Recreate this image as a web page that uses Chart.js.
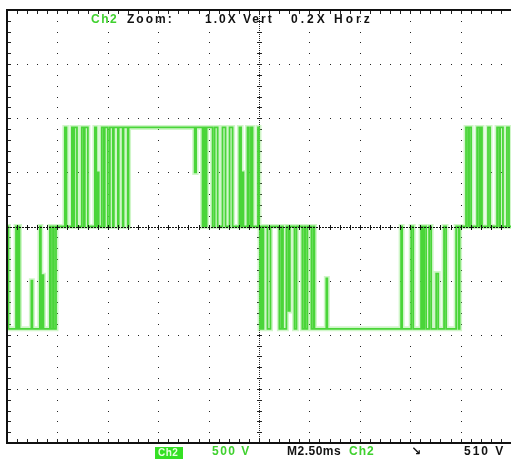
<!DOCTYPE html>
<html>
<head>
<meta charset="utf-8">
<script src="https://cdn.jsdelivr.net/npm/chart.js@4.4.1/dist/chart.umd.min.js"></script>
<style>
  html, body { margin: 0; padding: 0; background: #fff; }
  #wrap { width: 511px; height: 459px; }
</style>
</head>
<body>
<div id="wrap"><canvas id="scope" width="511" height="459"></canvas></div>
<script>
// Ch2 trace: time of each edge (ms) and the level after that edge (V)
const edgeTimes = [
  0, 0.07, 0.45, 0.50, 0.57, 0.62, 1.21, 1.26, 1.63, 1.68, 1.76, 1.81, 2.13, 2.18, 2.28, 2.33, 2.43,
  2.87, 2.95, 3.22, 3.29, 3.34, 3.47, 3.71, 3.81, 3.86, 4.01, 4.36, 4.43, 4.50, 4.55, 4.70, 4.80, 4.85, 5.00,
  5.10, 5.25, 5.30, 5.50, 5.54, 5.74, 5.78, 5.99, 6.03,
  9.31, 9.38, 9.70, 9.78, 9.85, 9.90, 10.20, 10.30, 10.45, 10.69, 10.84, 11.04, 11.19,
  11.53, 11.61, 11.68, 11.73, 11.93, 12.00, 12.10, 12.18,
  12.45, 12.50, 12.55, 12.62, 12.67, 12.72, 12.92, 13.07, 13.51, 13.61, 13.69, 13.86, 13.96, 14.03,
  14.26, 14.36, 14.65, 14.75, 14.80, 14.90, 15.10, 15.20, 15.25, 15.84, 15.89,
  19.55, 19.60, 20.05, 20.15, 20.54, 20.62, 20.69, 20.79, 20.94, 21.04, 21.29, 21.39, 21.68, 21.78,
  22.28, 22.40, 22.45,
  22.77, 22.87, 22.92, 23.02, 23.32, 23.42, 23.47, 23.56, 23.86, 23.96, 24.31, 24.41, 24.46, 24.60,
  24.80, 24.90, 25
];
const edgeLevels = [
  0, -945, 0, -945, 0, -945, -500, -945, 0, -945, -450, -945, 0, -945, 0, -945, 0,
  915, 0, 915, 0, 915, 0, 915, 0, 915, 0, 915, 0, 500, 0, 915, 0, 915, 0,
  915, 0, 915, 0, 915, 0, 915, 0, 915,
  500, 915, 0, 915, 0, 915, 0, 915, 0, 915, 0, 915, 0,
  915, 0, 500, 0, 915, 0, 915, 0,
  915, 0, -945, 0, -945, 0, -945, 0, -945, 0, -945, 0, -780, 0,
  -945, 0, -945, 0, -945, 0, -945, 0, -945, -480, -945,
  0, -945, 0, -945, 0, -945, 0, -945, 0, -945, -435, -945, 0, -945,
  0, -945, 0,
  915, 0, 915, 0, 915, 0, 915, 0, 915, 0, 915, 0, 915, 0,
  915, 0, 0
];

// screen: 10 horizontal divisions of 2.5 ms, 8 vertical divisions of 500 V
const timeDivs = [0, 2.5, 5, 7.5, 10, 12.5, 15, 17.5, 20, 22.5, 25];
const voltDivs = [-2000, -1500, -1000, -500, 0, 500, 1000, 1500, 2000];

const trace = edgeTimes.map((t, i) => ({ x: t, y: edgeLevels[i] }));

const graticule = {
  id: 'graticule',
  beforeDatasetsDraw(chart) {
    const { ctx, chartArea: a, scales: { x, y } } = chart;
    ctx.save();
    ctx.fillStyle = '#222';
    // dotted grid lines, a dot every minor division
    timeDivs.forEach(t => {
      if (t === 12.5) return;
      const px = Math.round(x.getPixelForValue(t));
      for (let v = -2000; v <= 2000; v += 100) {
        ctx.fillRect(px, Math.round(y.getPixelForValue(v)), 1, 1);
      }
    });
    voltDivs.forEach(v => {
      if (v === 0) return;
      const py = Math.round(y.getPixelForValue(v));
      for (let t = 0; t <= 25; t += 0.5) {
        ctx.fillRect(Math.round(x.getPixelForValue(t)), py, 1, 1);
      }
    });
    // centre vertical axis with minor ticks
    const cx = Math.round(x.getPixelForValue(12.5));
    for (let py = a.top; py < a.bottom; py += 2) ctx.fillRect(cx, py, 1, 1);
    for (let v = -2000; v <= 2000; v += 100) {
      ctx.fillRect(cx - 2, Math.round(y.getPixelForValue(v)), 5, 1);
    }
    // frame ticks on top and bottom edges
    for (let t = 0; t <= 25; t += 0.5) {
      const px = Math.round(x.getPixelForValue(t));
      ctx.fillRect(px, a.top + 1, 1, 3);
      ctx.fillRect(px, a.bottom - 4, 1, 3);
    }
    for (let v = -2000; v <= 2000; v += 100) {
      ctx.fillRect(a.left + 1, Math.round(y.getPixelForValue(v)), 3, 1);
    }
    ctx.restore();
  },
  afterDatasetsDraw(chart) {
    const { ctx, chartArea: a, scales: { x, y } } = chart;
    ctx.save();
    ctx.fillStyle = '#111';
    // centre horizontal axis drawn over the trace
    const cy = Math.round(y.getPixelForValue(0));
    for (let px = a.left; px < a.right; px += 3) ctx.fillRect(px, cy, 2, 1);
    for (let t = 0; t <= 25; t += 0.5) {
      ctx.fillRect(Math.round(x.getPixelForValue(t)), cy - 2, 1, 5);
    }
    // frame: left, top, bottom
    ctx.fillRect(a.left - 1, a.top - 1, 2, a.bottom - a.top + 2);
    ctx.fillRect(a.left - 1, a.top - 1, a.right - a.left + 1, 2);
    ctx.fillRect(a.left - 1, a.bottom - 1, a.right - a.left + 1, 2);
    ctx.restore();
  },
  afterDraw(chart) {
    const ctx = chart.ctx;
    const green = '#3fd12e';
    ctx.save();
    ctx.textBaseline = 'middle';
    ctx.font = 'bold 12px "Liberation Sans"';
    // top readout
    ctx.letterSpacing = '1.5px';
    ctx.fillStyle = green;
    ctx.fillText('Ch2', 91, 20);
    ctx.fillStyle = '#111';
    ctx.letterSpacing = '2px';
    ctx.fillText('Zoom:', 127, 20);
    ctx.fillText('1.0X Vert', 205, 20);
    ctx.letterSpacing = '3px';
    ctx.fillText('0.2X Horz', 291, 20);
    // bottom readout
    ctx.fillStyle = '#35e024';
    ctx.fillRect(155, 447, 28, 12);
    ctx.fillStyle = '#e8ffe0';
    ctx.font = 'bold 10px "Liberation Sans"';
    ctx.letterSpacing = '0.5px';
    ctx.fillText('Ch2', 158, 453);
    ctx.font = 'bold 12px "Liberation Sans"';
    ctx.letterSpacing = '1.5px';
    ctx.fillStyle = green;
    ctx.fillText('500 V', 212, 452);
    ctx.fillStyle = '#111';
    ctx.letterSpacing = '0.5px';
    ctx.fillText('M2.50ms', 287, 452);
    ctx.fillStyle = green;
    ctx.letterSpacing = '1px';
    ctx.fillText('Ch2', 349, 452);
    ctx.fillStyle = '#111';
    ctx.font = 'bold 12px "DejaVu Sans"';
    ctx.fillText('\u2198', 411, 452);
    ctx.font = 'bold 12px "Liberation Sans"';
    ctx.letterSpacing = '2px';
    ctx.fillText('510 V', 464, 452);
    ctx.restore();
  }
};

const ctx = document.getElementById('scope').getContext('2d');
new Chart(ctx, {
  type: 'line',
  data: {
    datasets: [
      {
        label: 'Ch2 glow',
        data: trace,
        stepped: 'before',
        borderColor: 'rgba(120, 230, 100, 0.35)',
        borderWidth: 5,
        pointRadius: 0,
        fill: false
      },
      {
        label: 'Ch2',
        data: trace,
        stepped: 'before',
        borderColor: 'rgb(50, 205, 35)',
        borderWidth: 1.8,
        pointRadius: 0,
        fill: false
      }
    ]
  },
  options: {
    responsive: false,
    animation: false,
    layout: { padding: { left: 7, top: 10, right: 0, bottom: 16 } },
    plugins: {
      legend: { display: false },
      tooltip: { enabled: false }
    },
    scales: {
      x: { type: 'linear', min: 0, max: 25, display: false },
      y: { type: 'linear', min: -2000, max: 2000, display: false }
    }
  },
  plugins: [graticule]
});
</script>
</body>
</html>
